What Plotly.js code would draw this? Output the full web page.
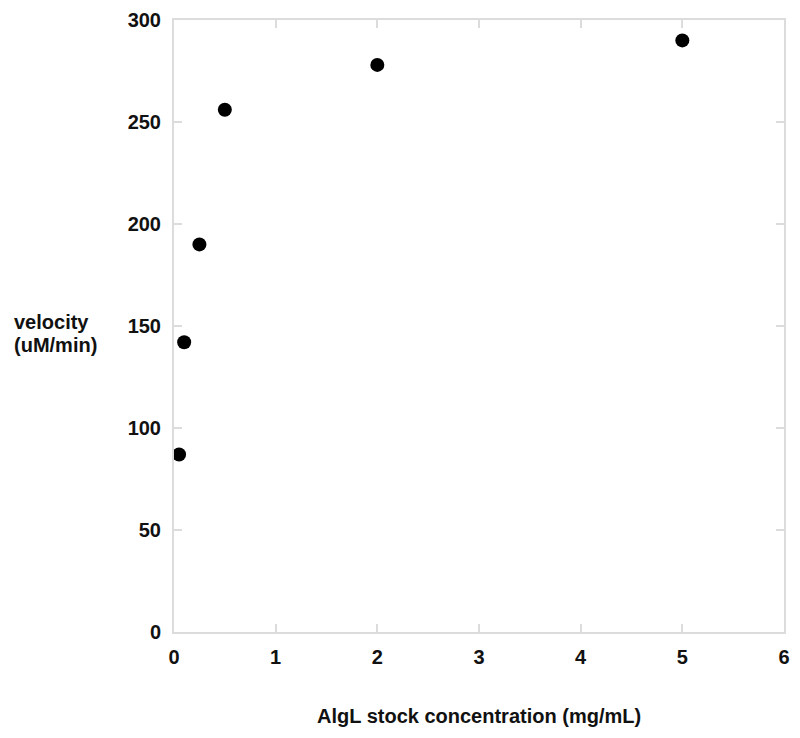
<!DOCTYPE html>
<html>
<head>
<meta charset="utf-8">
<script src="https://cdn.plot.ly/plotly-3.0.1.min.js"></script>
<style>html,body{margin:0;padding:0;background:#fff;}#chart{width:800px;height:738px;}</style>
</head>
<body>
<div id="chart"></div>
<script>
const concentration = [0.05, 0.1, 0.25, 0.5, 2, 5];
const velocity = [87, 142, 190, 256, 278, 290];
const xTicks = [0, 1, 2, 3, 4, 5, 6];
const yTicks = [0, 50, 100, 150, 200, 250, 300];
const xTitle = "AlgL stock concentration (mg/mL)";
const yTitleLines = ["velocity", "(uM/min)"];

const font = {family: "Liberation Sans, Arial, Helvetica, sans-serif", size: 20, color: "#111", weight: "bold"};

const trace = {
  x: concentration, y: velocity, type: "scatter", mode: "markers",
  marker: {color: "#000", size: 14},
  cliponaxis: false, showlegend: false, hoverinfo: "none"
};

const axisCommon = {
  showgrid: false, zeroline: false, showline: true, mirror: "ticks",
  linecolor: "#dcdcdc", linewidth: 2,
  ticks: "inside", ticklen: 8, tickwidth: 2, tickcolor: "#dcdcdc",
  tickfont: font, tickmode: "array"
};

const layout = {
  width: 800, height: 738,
  margin: {l: 174, r: 16, t: 20, b: 106},
  paper_bgcolor: "#fff", plot_bgcolor: "#fff",
  font: font,
  xaxis: Object.assign({}, axisCommon, {range: [0, 6], tickvals: xTicks, ticktext: xTicks.map(String), ticklabelstandoff: 6}),
  yaxis: Object.assign({}, axisCommon, {range: [0, 300], tickvals: yTicks, ticktext: yTicks.map(String), ticklabelstandoff: 7}),
  annotations: [
    {text: xTitle, xref: "paper", yref: "paper", x: 0.5, y: 0, xanchor: "center", yanchor: "middle", yshift: -84, showarrow: false, font: font},
    {text: yTitleLines[0], xref: "paper", yref: "paper", x: -0.2656, y: 0.5065, xanchor: "left", yanchor: "middle", align: "left", showarrow: false, font: font},
    {text: yTitleLines[1], xref: "paper", yref: "paper", x: -0.2656, y: 0.4690, xanchor: "left", yanchor: "middle", align: "left", showarrow: false, font: font}
  ]
};

Plotly.newPlot("chart", [trace], layout, {displayModeBar: false, staticPlot: true});
</script>
</body>
</html>
